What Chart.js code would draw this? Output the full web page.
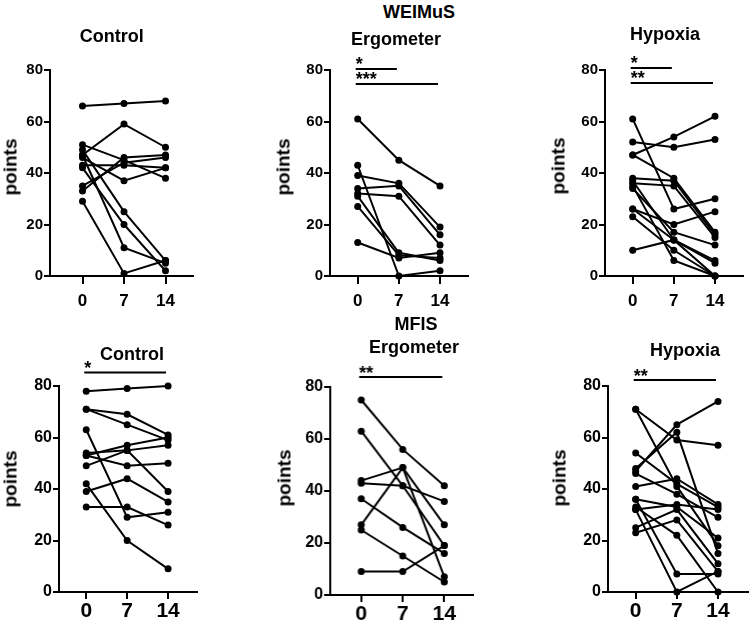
<!DOCTYPE html>
<html>
<head>
<meta charset="utf-8">
<script src="https://cdn.jsdelivr.net/npm/chart.js@4/dist/chart.umd.min.js"></script>
<style>
  html, body { margin: 0; padding: 0; background: #fff; }
  body { width: 749px; height: 622px; position: relative; overflow: hidden; font-family: "Liberation Sans", Arial, sans-serif; }
  .box { position: absolute; }
  .lbl { position: absolute; font-weight: bold; color: #000; line-height: 1; white-space: nowrap; transform: translateX(-50%); }
  .ytitle { position: absolute; font-weight: bold; color: #000; line-height: 1; white-space: nowrap; transform: translate(-50%, -50%) rotate(-90deg); }
</style>
</head>
<body>
<script>
// --- DADOS ---
const DAYS = [0, 7, 14];
const Y_TICKS = [0, 20, 40, 60, 80];
const SCALE_NAMES = ["WEIMuS", "MFIS"];
const GROUPS = ["Control", "Ergometer", "Hypoxia"];
const Y_TITLE = "points";

// um array por sujeito: [dia 0, dia 7, dia 14]
const weimusControl = [
  [66, 67, 68], [47, 59, 50], [51, 45, 38], [43, 43, 42], [35, 44, 46], [33, 46, 47],
  [46, 37, 42], [49, 25, 6], [42, 20, 2], [47, 11, 5], [29, 1, 6]
];
const weimusErgo = [
  [61, 45, 35], [39, 36, 19], [34, 35, 16], [32, 31, 12], [43, 0, 2], [31, 9, 6], [27, 8, 7], [13, 7, 9]
];
const weimusHypoxia = [
  [47, 54, 62], [52, 50, 53], [61, 26, 30], [47, 38, 17], [38, 37, 16], [36, 35, 15], [26, 20, 25],
  [34, 17, 12], [37, 14, 6], [26, 14, 5], [23, 10, 0], [35, 6, 0], [10, 14, 0]
];
const mfisControl = [
  [78, 79, 80], [71, 69, 61], [71, 65, 59], [53, 57, 60], [54, 55, 39], [53, 49, 50],
  [49, 55, 57], [39, 44, 35], [42, 20, 9], [63, 29, 31], [33, 33, 26]
];
const mfisErgo = [
  [75, 56, 42], [63, 42, 19], [44, 49, 27], [43, 42, 36], [27, 49, 7], [37, 26, 16], [25, 15, 5], [9, 9, 19]
];
const mfisHypoxia = [
  [47, 65, 74], [71, 59, 57], [48, 62, 15], [71, 41, 18], [54, 42, 33], [41, 44, 34], [46, 38, 29],
  [36, 33, 21], [32, 34, 32], [25, 32, 11], [23, 28, 8], [33, 22, 0], [36, 7, 7], [32, 0, 8]
];

// barras de significancia (de dia, ate dia, nivel no eixo y, texto)
const weimusControlSig = [];
const weimusErgoSig = [{ from: 0, to: 7, level: 80.4, label: "*" }, { from: 0, to: 14, level: 74.6, label: "***" }];
const weimusHypoxiaSig = [{ from: 0, to: 7, level: 80.8, label: "*" }, { from: 0, to: 14, level: 75.0, label: "**" }];
const mfisControlSig = [{ from: 0, to: 14, level: 85.2, label: "*" }];
const mfisErgoSig = [{ from: 0, to: 14, level: 83.8, label: "**" }];
const mfisHypoxiaSig = [{ from: 0, to: 14, level: 82.3, label: "**" }];

// --- LAYOUT ---
const FONT = '"Liberation Sans", Arial, sans-serif';
const PANELS = [
  { data: weimusControl, sig: weimusControlSig, axisX: 50, xEnd: 193, x0: 82.5, x14: 165.5, yTop: 70, yBot: 276, yFont: 15, xFont: 17, xTick: 8, xPad: 7, title: [14, 166.5] },
  { data: weimusErgo, sig: weimusErgoSig, axisX: 330, xEnd: 468, x0: 357.7, x14: 440, yTop: 70, yBot: 276, yFont: 15, xFont: 17, xTick: 8, xPad: 7, title: [287, 166.5] },
  { data: weimusHypoxia, sig: weimusHypoxiaSig, axisX: 605, xEnd: 743, x0: 632.7, x14: 715, yTop: 70, yBot: 276, yFont: 15, xFont: 17, xTick: 8, xPad: 7, title: [562, 166] },
  { data: mfisControl, sig: mfisControlSig, axisX: 58.7, xEnd: 197, x0: 86, x14: 168, yTop: 386, yBot: 592, yFont: 16, xFont: 21, xTick: 7, xPad: 0, title: [14, 479] },
  { data: mfisErgo, sig: mfisErgoSig, axisX: 330, xEnd: 472.7, x0: 361, x14: 444, yTop: 386.7, yBot: 595, yFont: 16, xFont: 21, xTick: 7, xPad: 0, title: [288, 478.3] },
  { data: mfisHypoxia, sig: mfisHypoxiaSig, axisX: 608, xEnd: 749, x0: 635.7, x14: 718, yTop: 386, yBot: 592, yFont: 16, xFont: 21, xTick: 7, xPad: 0, title: [563, 478] }
];

// textos: [texto, centro x, linha de base y]
const HEADERS = [
  [SCALE_NAMES[0], 419, 18.3], [GROUPS[0], 111.7, 42.7], [GROUPS[1], 396, 45], [GROUPS[2], 665, 40.5],
  [SCALE_NAMES[1], 416, 330], [GROUPS[0], 132, 360], [GROUPS[1], 414, 353.5], [GROUPS[2], 685, 356]
];

function addText(txt, cx, base, size) {
  const d = document.createElement("div");
  d.className = "lbl";
  d.textContent = txt;
  d.style.fontSize = size + "px";
  d.style.left = cx + "px";
  d.style.top = (base - 0.8465 * size) + "px";
  document.body.appendChild(d);
}

function addYTitle(cx, cy) {
  const d = document.createElement("div");
  d.className = "ytitle";
  d.textContent = Y_TITLE;
  d.style.fontSize = "19px";
  d.style.left = (cx - 3.7) + "px";
  d.style.top = cy + "px";
  document.body.appendChild(d);
}

function criarPainel(p) {
  const padTop = 30, yW = 40, xH = 40, padRight = 4;
  const w = yW + (p.xEnd - p.axisX) + padRight;
  const h = padTop + (p.yBot - p.yTop) + xH;

  const box = document.createElement("div");
  box.className = "box";
  box.style.left = (p.axisX - yW) + "px";
  box.style.top = (p.yTop - padTop) + "px";
  const canvas = document.createElement("canvas");
  canvas.width = w;
  canvas.height = h;
  canvas.style.width = w + "px";
  canvas.style.height = h + "px";
  box.appendChild(canvas);
  document.body.appendChild(box);

  const unit = (p.x14 - p.x0) / 14;
  const xMin = -(p.x0 - p.axisX) / unit;
  const xMax = 14 + (p.xEnd - p.x14) / unit;

  // desenha as barras de significancia com as escalas do grafico
  const sigPlugin = {
    id: "sig",
    afterDatasetsDraw(chart) {
      const { ctx, scales: { x, y } } = chart;
      ctx.save();
      ctx.strokeStyle = "#000";
      ctx.fillStyle = "#000";
      ctx.lineWidth = 2;
      ctx.font = "bold 18px " + FONT;
      ctx.textAlign = "left";
      ctx.textBaseline = "alphabetic";
      p.sig.forEach(b => {
        const yy = y.getPixelForValue(b.level);
        const x1 = x.getPixelForValue(b.from) - 2;
        const x2 = x.getPixelForValue(b.to) - 2;
        ctx.beginPath();
        ctx.moveTo(x1, yy);
        ctx.lineTo(x2, yy);
        ctx.stroke();
        ctx.fillText(b.label, x1, yy + 1.5);
      });
      ctx.restore();
    }
  };

  new Chart(canvas, {
    type: "line",
    data: {
      datasets: p.data.map(row => ({
        data: DAYS.map((d, i) => ({ x: d, y: row[i] })),
        borderColor: "#000",
        backgroundColor: "#000",
        borderWidth: 2,
        pointRadius: 3.5,
        pointBackgroundColor: "#000",
        pointBorderWidth: 0,
        tension: 0,
        clip: false
      }))
    },
    options: {
      responsive: false,
      animation: false,
      layout: { padding: { top: padTop, right: padRight, left: 0, bottom: 0 } },
      plugins: { legend: { display: false }, tooltip: { enabled: false } },
      scales: {
        x: {
          type: "linear",
          min: xMin,
          max: xMax,
          afterBuildTicks: s => { s.ticks = DAYS.map(v => ({ value: v })); },
          afterFit: s => { s.height = xH; },
          grid: { display: true, drawOnChartArea: false, drawTicks: true, tickLength: p.xTick, color: "#000", lineWidth: 2 },
          border: { display: true, color: "#000", width: 2 },
          ticks: { color: "#000", padding: p.xPad, autoSkip: false, maxRotation: 0, font: { family: FONT, size: p.xFont, weight: "bold" }, callback: v => String(v) }
        },
        y: {
          min: 0,
          max: 80,
          afterBuildTicks: s => { s.ticks = Y_TICKS.map(v => ({ value: v })); },
          afterFit: s => { s.width = yW; },
          grid: { display: true, drawOnChartArea: false, drawTicks: true, tickLength: 6, color: "#000", lineWidth: 2 },
          border: { display: true, color: "#000", width: 2 },
          ticks: { color: "#000", padding: 1, font: { family: FONT, size: p.yFont, weight: "bold" }, callback: v => String(v) }
        }
      }
    },
    plugins: [sigPlugin]
  });

  addYTitle(p.title[0], p.title[1]);
}

PANELS.forEach(criarPainel);
HEADERS.forEach(t => addText(t[0], t[1], t[2], 18));
</script>
</body>
</html>
